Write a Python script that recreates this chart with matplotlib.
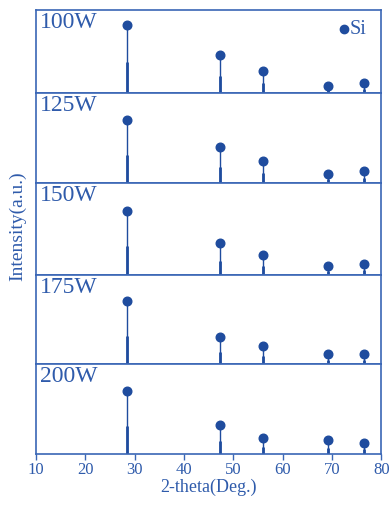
import matplotlib.pyplot as plt

# Si reflections (2-theta, degrees)
si_peaks = [28.4, 47.3, 56.1, 69.1, 76.4]

powers = ['100W', '125W', '150W', '175W', '200W']

# peak heights per sample (a.u.)
int_100 = [68, 38, 22, 7, 10]
int_125 = [63, 36, 22, 9, 12]
int_150 = [64, 32, 20, 9, 11]
int_175 = [63, 27, 18, 10, 10]
int_200 = [63, 29, 16, 14, 11]
intensities = [int_100, int_125, int_150, int_175, int_200]

# weak background bands along the baseline (start, end)
bg_100 = [(37.5, 40.5), (52.5, 54.5), (56.8, 68.5), (71.0, 75.5)]
bg_150 = [(22.0, 27.0), (30.0, 38.0), (44.0, 46.5), (49.0, 51.0)]
backgrounds = [bg_100, [], bg_150, [], []]

# vertical span of each panel
panel_h = [83, 90, 92, 89, 90]

blue = '#1f4c9e'
text_blue = '#2f5bab'

plt.rcParams['font.family'] = ['Liberation Serif', 'DejaVu Serif']

fig, axes = plt.subplots(5, 1, sharex=True, figsize=(3.9, 5.05), dpi=100,
                         gridspec_kw={'height_ratios': panel_h, 'hspace': 0})
fig.subplots_adjust(left=0.0923, right=0.978, bottom=0.101, top=0.980)

for ax, name, ints, bg, h in zip(axes, powers, intensities, backgrounds, panel_h):
    ax.set_ylim(0, h)
    ax.set_xlim(10, 80)
    for x, y in zip(si_peaks, ints):
        ax.plot([x, x], [0, y], color=blue, lw=1.0, solid_capstyle='butt')
        ax.plot([x, x], [0, y * 0.45], color=blue, lw=2.0, solid_capstyle='butt')
        ax.plot(x, y, 'o', color=blue, ms=6.2, mec=blue)
    for a, b in bg:
        ax.plot([a, b], [0.5, 0.5], color=blue, lw=1.0, alpha=0.6)
    ax.text(0.012, 1 - 12 / h, name, transform=ax.transAxes, ha='left',
            va='center', fontsize=17, color=text_blue)
    ax.set_yticks([])
    for s in ax.spines.values():
        s.set_color('#3a66b5')
        s.set_linewidth(1.2)
    ax.tick_params(axis='x', which='both', length=0)

# legend marker for the Si phase
axes[0].plot(72.5, 64, 'o', color=blue, ms=6)
axes[0].text(73.6, 64, 'Si', ha='left', va='center', fontsize=14.5, color=text_blue)

bot = axes[-1]
bot.set_xticks(range(10, 81, 10))
bot.tick_params(axis='x', length=4, width=1.0, direction='out', color='#3a66b5',
                labelsize=12, labelcolor=text_blue, pad=2)
bot.set_xlabel('2-theta(Deg.)', fontsize=13, color=text_blue, labelpad=0)
fig.text(0.046, 0.552, 'Intensity(a.u.)', rotation=90, ha='center', va='center',
         fontsize=14, color=text_blue)

fig.savefig('out.png', dpi=100)
